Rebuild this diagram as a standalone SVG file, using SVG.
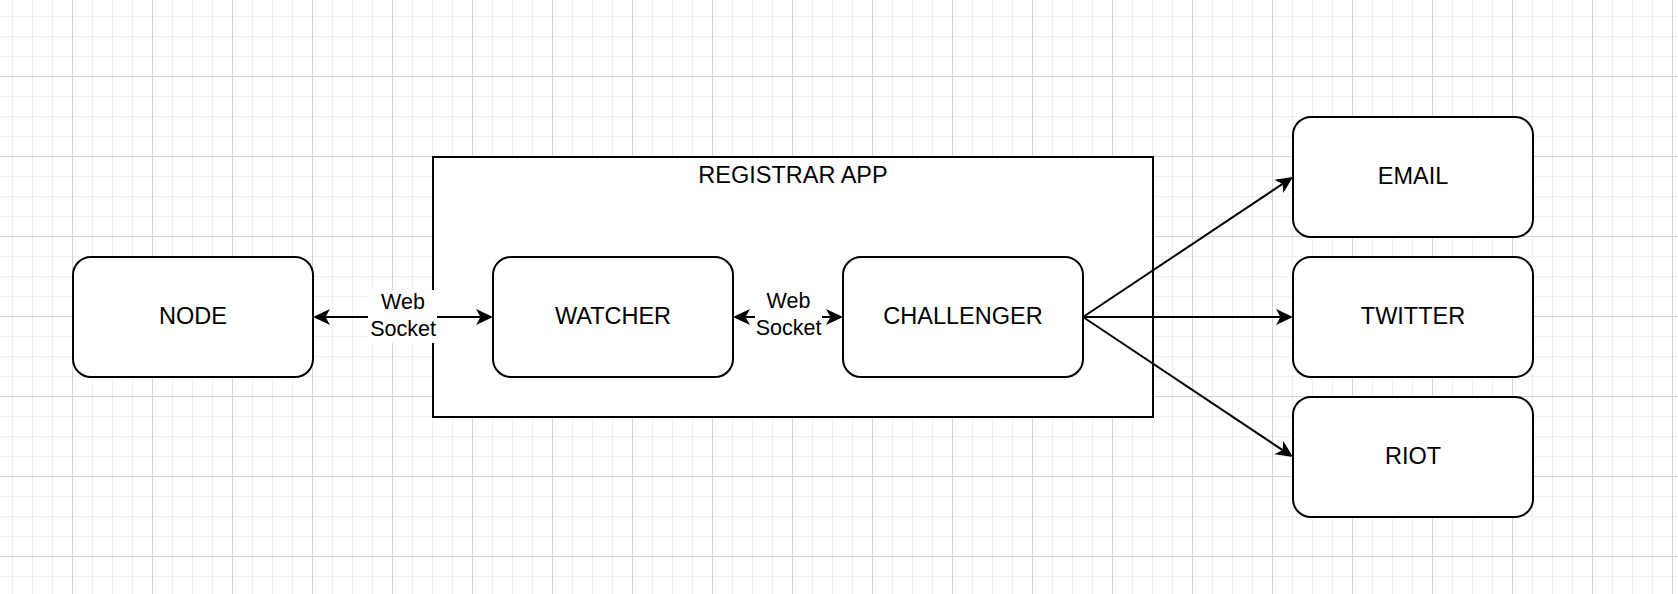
<svg xmlns="http://www.w3.org/2000/svg" width="1678" height="594" viewBox="0 0 1678 594">
  <style>
    .box { fill: #ffffff; stroke: #000000; stroke-width: 2; }
    .lbl { font-family: "Liberation Sans", Arial, Helvetica, sans-serif; font-size: 23.5px; fill: #000000; text-anchor: middle; }
    .ws { font-family: "Liberation Sans", Arial, Helvetica, sans-serif; font-size: 21.5px; fill: #000000; text-anchor: middle; }
    .edge { fill: none; stroke: #000000; stroke-width: 2; }
    .end { marker-end: url(#arrow); }
    .both { marker-start: url(#arrow); marker-end: url(#arrow); }
  </style>
  <defs>
    <pattern id="grid" patternUnits="userSpaceOnUse" x="-8" y="-4" width="80" height="80">
      <path d="M20.5 0V80M40.5 0V80M60.5 0V80M0 20.5H80M0 40.5H80M0 60.5H80" stroke="#f0f0f0" stroke-width="1" fill="none"/>
      <path d="M0.5 0V80M0 0.5H80" stroke="#d4d4d4" stroke-width="1" fill="none"/>
    </pattern>
    <marker id="arrow" markerUnits="userSpaceOnUse" viewBox="-1 -9 19 18" refX="4.5" refY="0" markerWidth="19" markerHeight="18" orient="auto-start-reverse">
      <path d="M0,-8 L17,0 L0,8 L4.5,0 Z" fill="#000000" stroke="none"/>
    </marker>
  </defs>
  <rect x="0" y="0" width="1678" height="594" fill="#ffffff"/>
  <rect x="0" y="0" width="1678" height="594" fill="url(#grid)"/>

  <g id="registrar-app">
    <rect class="box" x="433" y="157" width="720" height="260"/>
    <text class="lbl" x="793" y="183.4">REGISTRAR APP</text>
  </g>

  <g id="node">
    <rect class="box" x="73" y="257" width="240" height="120" rx="18" ry="18"/>
    <text class="lbl" x="193" y="324">NODE</text>
  </g>
  <g id="watcher">
    <rect class="box" x="493" y="257" width="240" height="120" rx="18" ry="18"/>
    <text class="lbl" x="613" y="324">WATCHER</text>
  </g>
  <g id="challenger">
    <rect class="box" x="843" y="257" width="240" height="120" rx="18" ry="18"/>
    <text class="lbl" x="963" y="324">CHALLENGER</text>
  </g>
  <g id="email">
    <rect class="box" x="1293" y="117" width="240" height="120" rx="18" ry="18"/>
    <text class="lbl" x="1413" y="184">EMAIL</text>
  </g>
  <g id="twitter">
    <rect class="box" x="1293" y="257" width="240" height="120" rx="18" ry="18"/>
    <text class="lbl" x="1413" y="324">TWITTER</text>
  </g>
  <g id="riot">
    <rect class="box" x="1293" y="397" width="240" height="120" rx="18" ry="18"/>
    <text class="lbl" x="1413" y="464">RIOT</text>
  </g>

  <g id="connectors">
    <line class="edge both" x1="325.5" y1="317" x2="480.5" y2="317"/>
    <line class="edge both" x1="745.5" y1="317" x2="830.5" y2="317"/>
    <line class="edge end" x1="1083" y1="317" x2="1280.5" y2="317"/>
    <line class="edge end" x1="1083" y1="317" x2="1282.6" y2="183.9"/>
    <line class="edge end" x1="1083" y1="317" x2="1282.6" y2="450.1"/>
    <g id="ws-label-1">
      <rect x="368" y="290" width="69" height="53" fill="#ffffff"/>
      <text class="ws" x="403" y="309">Web</text>
      <text class="ws" x="403" y="335.7">Socket</text>
    </g>
    <g id="ws-label-2">
      <rect x="755" y="290" width="67" height="53" fill="#ffffff"/>
      <text class="ws" x="788.5" y="307.7">Web</text>
      <text class="ws" x="788.5" y="335">Socket</text>
    </g>
  </g>
</svg>
